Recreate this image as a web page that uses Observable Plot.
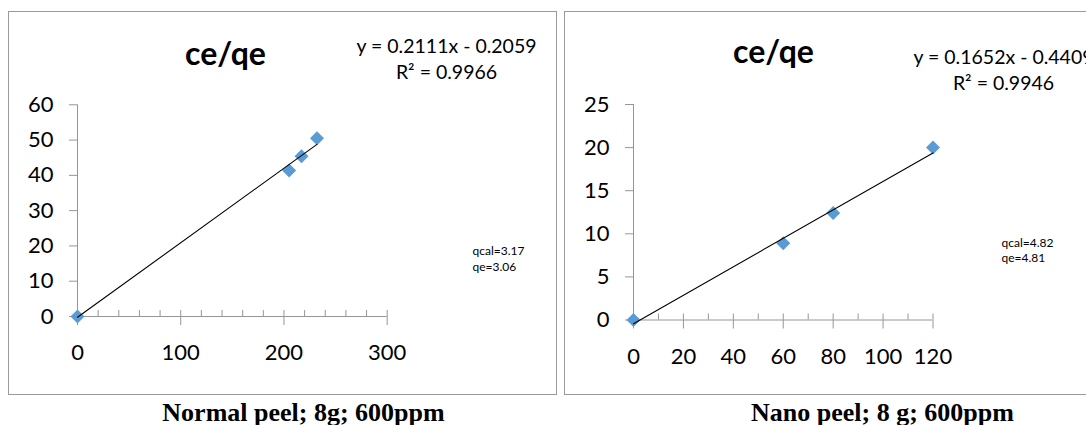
<!DOCTYPE html>
<html>
<head>
<meta charset="utf-8">
<script src="https://cdn.jsdelivr.net/npm/d3@7"></script>
<script src="https://cdn.jsdelivr.net/npm/@observablehq/plot@0.6"></script>
<style>
  html, body { margin: 0; padding: 0; background: #fff; overflow: hidden; }
  #page { position: relative; width: 1086px; height: 425px; overflow: hidden; background: #fff; }
  .box { position: absolute; box-sizing: border-box; border: 1px solid #9a9a9a; }
  #page svg { position: absolute; left: 0; top: 0; }
</style>
</head>
<body>
<div id="page"></div>
<script>
// ---- data ----
const normalCe = [0, 205, 217, 232];
const normalCeQe = [0, 41.4, 45.4, 50.5];
const nanoCe = [0, 60, 80, 120];
const nanoCeQe = [0, 8.9, 12.4, 20.0];

const fitSlopes = [0.2111, 0.1652];
const fitIntercepts = [-0.2059, -0.4409];

const chartTitles = ["ce/qe", "ce/qe"];
const equations = ["y = 0.2111x - 0.2059", "y = 0.1652x - 0.4409"];
const rSquared = ["R\u00b2 = 0.9966", "R\u00b2 = 0.9946"];
const qcalNotes = ["qcal=3.17", "qcal=4.82"];
const qeNotes = ["qe=3.06", "qe=4.81"];
const captions = ["Normal peel; 8g; 600ppm", "Nano peel; 8 g; 600ppm"];

const normalXTicks = [0, 100, 200, 300];
const normalXMinor = [0, 20, 40, 60, 80, 100, 120, 140, 160, 180, 200, 220, 240, 260, 280, 300];
const normalYTicks = [0, 10, 20, 30, 40, 50, 60];
const nanoXTicks = [0, 20, 40, 60, 80, 100, 120];
const nanoXMinor = [0, 10, 20, 30, 40, 50, 60, 70, 80, 90, 100, 110, 120];
const nanoYTicks = [0, 5, 10, 15, 20, 25];

// ---- layout ----
const W = 1086, H = 425;
const GRAY = "#969696";
const BLUE = "#5B9BD5";

const page = document.getElementById("page");
function addBox(left, top, width, height) {
  const d = document.createElement("div");
  d.className = "box";
  Object.assign(d.style, {left: left + "px", top: top + "px", width: width + "px", height: height + "px"});
  page.appendChild(d);
}
addBox(8, 11, 549, 384);
addBox(564, 11, 600, 384);

function panel(cfg) {
  const ml = cfg.px0, mr = W - cfg.px1, mt = cfg.pyTop, mb = H - cfg.pyBottom;
  const frameH = H - mt - mb;
  const at = (X, Y) => ({frameAnchor: "top-left", dx: X - ml, dy: Y - mt, lineAnchor: "bottom"});
  const rows = cfg.xs.map((x, i) => ({x, y: cfg.ys[i]}));
  const xmax = d3.max(cfg.xs);
  const fit = [0, xmax].map(x => ({x, y: cfg.slope * x + cfg.intercept}));
  return Plot.plot({
    width: W, height: H,
    marginLeft: ml, marginRight: mr, marginTop: mt, marginBottom: mb,
    x: {domain: cfg.xDomain},
    y: {domain: cfg.yDomain},
    style: {fontFamily: "Lato, sans-serif", fontSize: "22px", background: "transparent", color: "black", overflow: "visible"},
    marks: [
      Plot.ruleX(cfg.xMinor, {stroke: GRAY, insetTop: frameH - 6}),
      Plot.axisX(cfg.xTicks, {tickSize: 9, tickPadding: 19, stroke: GRAY, fill: "black", label: null}),
      Plot.axisY(cfg.yTicks, {tickSize: 8, tickPadding: 16, stroke: GRAY, fill: "black", label: null}),
      Plot.ruleY([0], {stroke: GRAY}),
      Plot.ruleX([0], {stroke: GRAY}),
      Plot.dot(rows, {x: "x", y: "y", symbol: "diamond2", r: 6.3, fill: BLUE}),
      Plot.line(fit, {x: "x", y: "y", stroke: "black", strokeWidth: 1.1}),
      Plot.text([cfg.title], {...at(cfg.title_x, cfg.title_y), textAnchor: "middle", fontSize: 32, fontWeight: "bold"}),
      Plot.text([cfg.eq], {...at(cfg.eq_x, cfg.eq_y), textAnchor: "middle", fontSize: 19.5}),
      Plot.text([cfg.r2], {...at(cfg.eq_x, cfg.r2_y), textAnchor: "middle", fontSize: 19.5}),
      Plot.text([cfg.qcal], {...at(cfg.q_x, cfg.qcal_y), textAnchor: "start", fontSize: 12}),
      Plot.text([cfg.qe], {...at(cfg.q_x, cfg.qe_y), textAnchor: "start", fontSize: 12}),
      Plot.text([cfg.caption], {...at(cfg.cap_x, cfg.cap_y), textAnchor: "middle", fontSize: 26, fontWeight: "bold", fontFamily: "'Liberation Serif', 'Times New Roman', serif"})
    ]
  });
}

page.appendChild(panel({
  xs: normalCe, ys: normalCeQe, slope: fitSlopes[0], intercept: fitIntercepts[0],
  xDomain: [0, 300], yDomain: [0, 60],
  xTicks: normalXTicks, xMinor: normalXMinor, yTicks: normalYTicks,
  px0: 77, px1: 386.7, pyTop: 104.3, pyBottom: 316,
  title: chartTitles[0], title_x: 225, title_y: 64,
  eq: equations[0], r2: rSquared[0], eq_x: 446, eq_y: 52, r2_y: 78.5,
  qcal: qcalNotes[0], qe: qeNotes[0], q_x: 472, qcal_y: 254, qe_y: 270,
  caption: captions[0], cap_x: 303, cap_y: 420
}));

page.appendChild(panel({
  xs: nanoCe, ys: nanoCeQe, slope: fitSlopes[1], intercept: fitIntercepts[1],
  xDomain: [0, 120], yDomain: [0, 25],
  xTicks: nanoXTicks, xMinor: nanoXMinor, yTicks: nanoYTicks,
  px0: 633, px1: 932.5, pyTop: 104, pyBottom: 319.5,
  title: chartTitles[1], title_x: 773, title_y: 62,
  eq: equations[1], r2: rSquared[1], eq_x: 1003, eq_y: 63, r2_y: 89.5,
  qcal: qcalNotes[1], qe: qeNotes[1], q_x: 1001, qcal_y: 246, qe_y: 261,
  caption: captions[1], cap_x: 882, cap_y: 420
}));
</script>
</body>
</html>
